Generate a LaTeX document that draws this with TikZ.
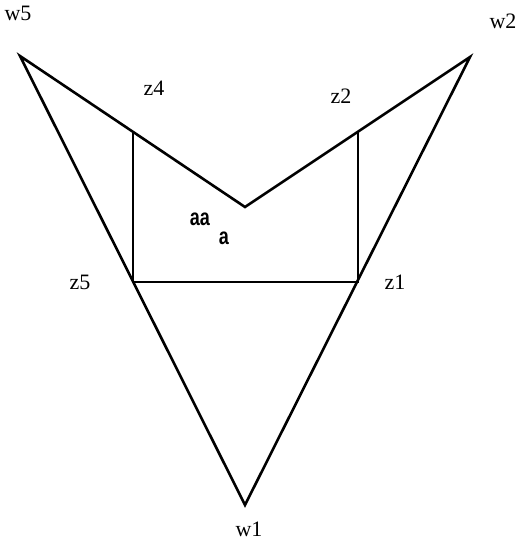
\documentclass[tikz,border=0pt]{standalone}
\usepackage{fontspec}
\setmainfont{Liberation Serif}
\newfontfamily\labsans{Liberation Sans}
\tikzset{lab/.style={inner sep=0pt,font=\fontsize{22}{22}\selectfont},
  slab/.style={inner sep=0pt,font=\labsans\bfseries\fontsize{18}{18}\selectfont}}
\begin{document}
\begin{tikzpicture}[x=1pt,y=-1pt,line width=2.6pt]
\useasboundingbox (0,0) rectangle (523,546);
%corners
\coordinate (w5) at (20,56);
\coordinate (w2) at (470,57);
\coordinate (w1) at (245,505);
\coordinate (m) at (245,207);
\coordinate (z4) at (133,131);
\coordinate (z2) at (358,131);
\coordinate (z5) at (133,282);
\coordinate (z1) at (358,282);
%outline
\draw[line join=miter] (w5) -- (m) -- (w2) -- (w1) -- cycle;
\draw[line width=2pt] (z4) -- (z5) -- (z1) -- (z2);
%labels
\node[lab] (lw5) at (18,13) {w5};
\node[lab] (lw2) at (503,21) {w2};
\node[lab] (lz4) at (154,88) {z4};
\node[lab] (lz2) at (341,96) {z2};
\node[lab] (lz5) at (80,282) {z5};
\node[lab] (lz1) at (395,282) {z1};
\node[lab] (lw1) at (249,529) {w1};
\node[slab] (laa) at (200,219) {\scalebox{1}[1.3]{aa}};
\node[slab] (la) at (224,238) {\scalebox{1}[1.3]{a}};
\end{tikzpicture}
\end{document}
